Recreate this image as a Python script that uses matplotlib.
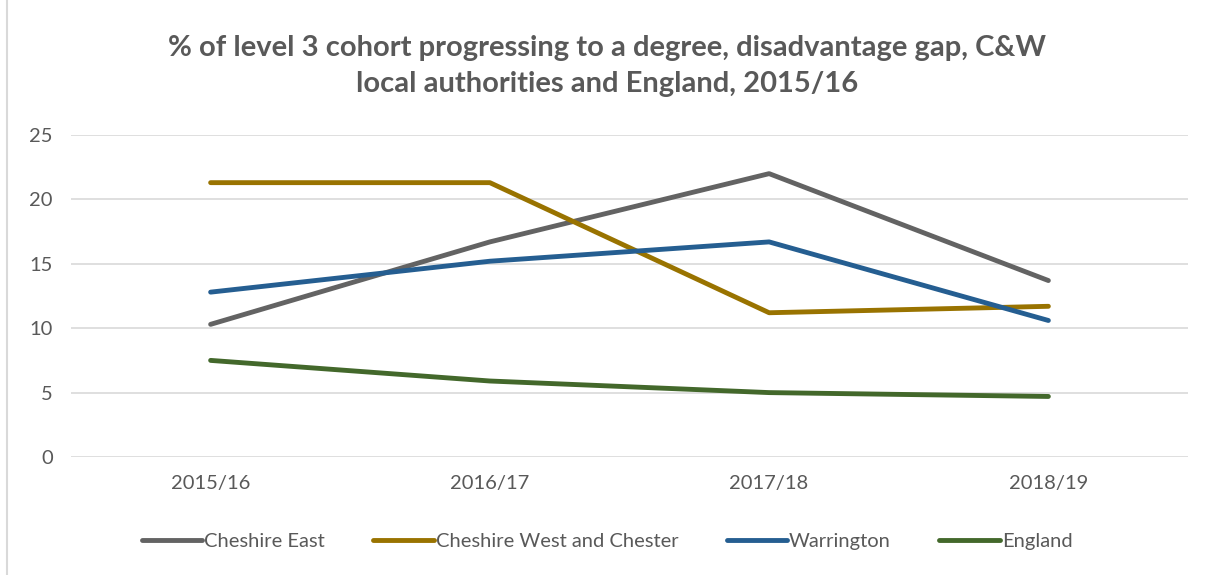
import matplotlib
matplotlib.use("Agg")
import matplotlib.pyplot as plt

years = ["2015/16", "2016/17", "2017/18", "2018/19"]
cheshire_east = [10.3, 16.7, 22.0, 13.7]
cheshire_west = [21.3, 21.3, 11.2, 11.7]
warrington = [12.8, 15.2, 16.7, 10.6]
england = [7.5, 5.9, 5.0, 4.7]

series = [
    ("Cheshire East", cheshire_east, "#636363"),
    ("Cheshire West and Chester", cheshire_west, "#997300"),
    ("Warrington", warrington, "#255E91"),
    ("England", england, "#43682B"),
]

plt.rcParams['font.family'] = ['Lato', 'DejaVu Sans']

fig = plt.figure(figsize=(12.14, 5.75), dpi=100)
ax = fig.add_axes([71/1214, 1-457/575, (1188-71)/1214, (457-135)/575])

x = list(range(len(years)))
for name, vals, col in series:
    ax.plot(x, vals, color=col, lw=3.5, solid_capstyle='round', label=name)

ax.set_xlim(-0.5, 3.5)
ax.set_ylim(0, 25)
ax.set_yticks([0, 5, 10, 15, 20, 25])
ax.set_xticks(x)
ax.set_xticklabels(years)
ax.grid(axis='y', color='#D9D9D9', lw=1.2)
ax.set_axisbelow(True)
for s in ax.spines.values():
    s.set_visible(False)
ax.tick_params(axis='both', length=0, labelsize=14.5, labelcolor='#595959')
ax.tick_params(axis='y', pad=13)
ax.tick_params(axis='x', pad=13)

fig.text(0.5, 1-66/575, "% of level 3 cohort progressing to a degree, disadvantage gap, C&W\nlocal authorities and England, 2015/16",
         ha='center', va='center', fontsize=21, fontweight='bold', color='#595959', linespacing=1.45)

leg = fig.legend(loc='center', bbox_to_anchor=(0.5, 1-541/575), ncol=4, frameon=False,
                 fontsize=14.5, handlelength=3.0, handletextpad=0.1, columnspacing=2.4,
                 labelcolor='#595959')

# left border line
fig.add_artist(plt.Line2D([7/1214, 7/1214], [0, 1], color='#D9D9D9', lw=1.5, transform=fig.transFigure))

fig.savefig("out.png", dpi=100)
